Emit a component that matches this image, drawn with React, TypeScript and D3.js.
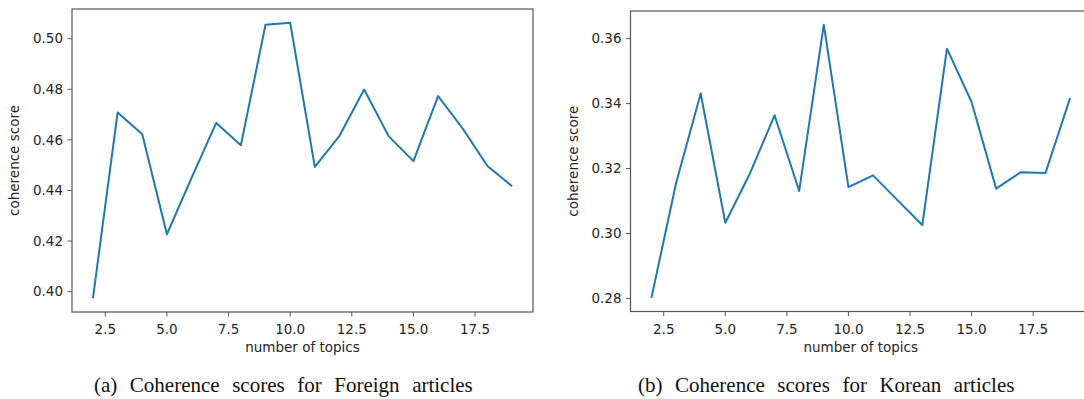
import * as d3 from "d3";

// number of topics on the x axis
const topics = [2, 3, 4, 5, 6, 7, 8, 9, 10, 11, 12, 13, 14, 15, 16, 17, 18, 19];

// coherence scores
const foreignScores = [
  0.3974, 0.4708, 0.4622, 0.4227, 0.445, 0.4667, 0.4579, 0.5055, 0.5063,
  0.4493, 0.4616, 0.4799, 0.4614, 0.4516, 0.4773, 0.4645, 0.4497, 0.4417,
];
const koreanScores = [
  0.2802, 0.3155, 0.3431, 0.3033, 0.3185, 0.3364, 0.3131, 0.3643, 0.3143,
  0.3179, 0.3102, 0.3026, 0.3569, 0.3405, 0.3138, 0.3189, 0.3186, 0.3417,
];

const xTicks = [2.5, 5.0, 7.5, 10.0, 12.5, 15.0, 17.5];
const foreignYTicks = [0.4, 0.42, 0.44, 0.46, 0.48, 0.5];
const koreanYTicks = [0.28, 0.3, 0.32, 0.34, 0.36];

const xLabel = "number of topics";
const yLabel = "coherence score";
const captions = [
  "(a) Coherence scores for Foreign articles",
  "(b) Coherence scores for Korean articles",
];

const LINE = "#1f77b4";
const SPINE = "#555";
const TEXT = "#262626";
const SANS = "'DejaVu Sans', sans-serif";

// matplotlib style 5% margins
function padded(values: number[]): [number, number] {
  const [lo, hi] = d3.extent(values) as [number, number];
  const m = (hi - lo) * 0.05;
  return [lo - m, hi + m];
}

interface PanelProps {
  values: number[];
  yTicks: number[];
  left: number;
  right: number;
  top: number;
  bottom: number;
  caption: string;
  captionX: number;
}

function Panel({ values, yTicks, left, right, top, bottom, caption, captionX }: PanelProps) {
  const x = d3.scaleLinear().domain(padded(topics)).range([left, right]);
  const y = d3.scaleLinear().domain(padded(values)).range([bottom, top]);

  const line = d3
    .line<number>()
    .x((_, i) => x(topics[i]))
    .y((d) => y(d));

  const tickLen = 4.5;
  const midX = (left + right) / 2;
  const midY = (top + bottom) / 2;

  return (
    <g>
      <path d={line(values) || ""} fill="none" stroke={LINE} strokeWidth={2} strokeLinejoin="round" />

      {/* axes frame */}
      <rect
        x={left}
        y={top}
        width={right - left}
        height={bottom - top}
        fill="none"
        stroke={SPINE}
        strokeWidth={1.2}
      />

      {/* x ticks */}
      {xTicks.map((t) => (
        <g key={"x" + t} transform={`translate(${x(t)},${bottom})`}>
          <line y2={tickLen} stroke={SPINE} strokeWidth={1} />
          <text y={22} textAnchor="middle" fontFamily={SANS} fontSize={13.5} fill={TEXT}>
            {d3.format(".1f")(t)}
          </text>
        </g>
      ))}

      {/* y ticks */}
      {yTicks.map((t) => (
        <g key={"y" + t} transform={`translate(${left},${y(t)})`}>
          <line x2={-tickLen} stroke={SPINE} strokeWidth={1} />
          <text x={-9} dy="0.35em" textAnchor="end" fontFamily={SANS} fontSize={13.5} fill={TEXT}>
            {d3.format(".2f")(t)}
          </text>
        </g>
      ))}

      <text x={midX} y={bottom + 40} textAnchor="middle" fontFamily={SANS} fontSize={13.5} fill={TEXT}>
        {xLabel}
      </text>
      <text
        transform={`translate(${left - 53},${midY}) rotate(-90)`}
        textAnchor="middle"
        fontFamily={SANS}
        fontSize={13.5}
        fill={TEXT}
      >
        {yLabel}
      </text>

      <text
        x={captionX}
        y={392}
        fontFamily="'Liberation Serif', 'Times New Roman', serif"
        fontSize={21}
        wordSpacing={7.3}
        fill="#111"
      >
        {caption}
      </text>
    </g>
  );
}

export default function App() {
  return (
    <svg
      width={1084}
      height={399}
      style={{ position: "absolute", left: 0, top: 0, background: "#fff" }}
    >
      <Panel
        values={foreignScores}
        yTicks={foreignYTicks}
        left={72}
        right={533}
        top={9}
        bottom={312}
        caption={captions[0]}
        captionX={94}
      />
      <Panel
        values={koreanScores}
        yTicks={koreanYTicks}
        left={630.5}
        right={1091}
        top={11}
        bottom={311.5}
        caption={captions[1]}
        captionX={638}
      />
    </svg>
  );
}
